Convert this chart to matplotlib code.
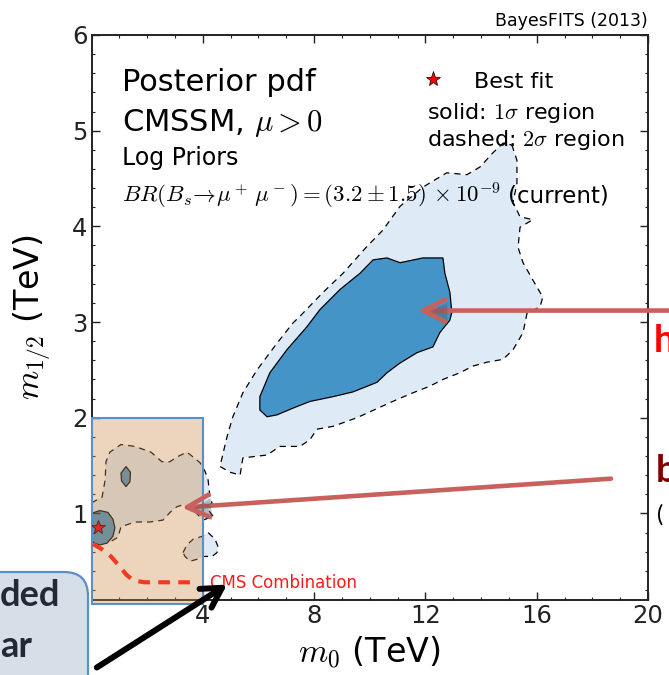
import matplotlib
matplotlib.use("Agg")
import matplotlib.pyplot as plt
import matplotlib.patheffects as pe
from matplotlib.patches import Rectangle, FancyBboxPatch
from matplotlib.ticker import MultipleLocator
from matplotlib.transforms import IdentityTransform

W, H = 669, 675

# Credible regions, (m0, m1/2) in TeV.
SIGMA2_MAIN = [
    (15.11, 4.85), (15.29, 4.69), (15.29, 4.45), (15.15, 4.25), (15.40, 4.10),
    (15.86, 4.07), (15.40, 3.99), (15.33, 3.78), (15.51, 3.62), (15.86, 3.44),
    (16.22, 3.26), (16.12, 3.16), (15.65, 3.09), (15.51, 2.89), (15.15, 2.71),
    (14.79, 2.61), (14.21, 2.58), (13.71, 2.54), (13.24, 2.47), (12.63, 2.40),
    (12.16, 2.33), (11.55, 2.26), (10.98, 2.19), (10.37, 2.11), (9.54, 2.00),
    (8.68, 1.91), (8.10, 1.88), (7.85, 1.77), (7.49, 1.70), (6.77, 1.70),
    (6.31, 1.61), (5.44, 1.58), (5.34, 1.40), (4.98, 1.43), (4.62, 1.49),
    (4.73, 1.63), (4.87, 1.80), (5.08, 2.01), (5.44, 2.26), (5.95, 2.50),
    (6.67, 2.78), (7.24, 2.99), (7.49, 3.06), (8.32, 3.31), (9.04, 3.51),
    (9.90, 3.79), (10.47, 3.96), (11.09, 4.21), (11.91, 4.41), (12.77, 4.56),
    (13.49, 4.54), (13.96, 4.62), (14.43, 4.77), (14.79, 4.87),
]
SIGMA2_LOW = [
    (0.00, 1.11), (0.38, 1.17), (0.49, 1.35), (0.52, 1.54), (0.66, 1.64),
    (1.06, 1.72), (1.56, 1.70), (2.14, 1.64), (2.53, 1.54), (2.82, 1.54),
    (3.07, 1.59), (3.43, 1.64), (3.65, 1.59), (3.90, 1.53), (4.08, 1.44),
    (4.19, 1.35), (4.26, 1.17), (4.33, 1.11), (4.19, 1.04), (4.37, 0.97),
    (4.01, 0.93), (3.54, 1.07), (3.29, 1.09), (3.07, 1.07), (2.82, 1.01),
    (2.57, 0.93), (2.10, 0.91), (1.56, 0.91), (1.06, 0.86), (0.95, 0.75),
    (0.59, 0.69), (0.13, 0.72), (0.00, 0.73),
]
SIGMA2_LOBE = [
    (3.29, 0.59), (3.43, 0.67), (3.65, 0.73), (3.97, 0.76), (4.19, 0.80),
    (4.44, 0.73), (4.55, 0.65), (4.51, 0.59), (4.33, 0.55), (4.01, 0.55),
    (3.79, 0.52), (3.54, 0.50), (3.36, 0.55),
]
SIGMA1_MAIN = [
    (12.63, 3.67), (12.70, 3.51), (12.88, 3.31), (12.95, 3.10), (12.88, 3.02),
    (12.52, 2.89), (12.27, 2.74), (11.70, 2.68), (11.08, 2.57), (10.62, 2.47),
    (10.26, 2.37), (9.40, 2.27), (8.68, 2.22), (7.85, 2.17), (7.24, 2.10),
    (6.67, 2.03), (6.31, 2.01), (6.05, 2.08), (6.05, 2.22), (6.41, 2.47),
    (7.02, 2.71), (7.74, 2.95), (8.21, 3.13), (8.93, 3.34), (9.65, 3.51),
    (10.12, 3.65), (10.62, 3.67), (11.09, 3.62), (11.91, 3.67),
]
SIGMA1_SPOT = [(1.24, 1.49), (1.40, 1.43), (1.38, 1.33), (1.24, 1.28), (1.08, 1.34), (1.06, 1.42)]
SIGMA1_BEST = [
    (0.00, 1.00), (0.30, 1.03), (0.59, 1.01), (0.77, 0.94), (0.84, 0.85),
    (0.77, 0.76), (0.56, 0.69), (0.30, 0.67), (0.09, 0.69), (0.00, 0.72),
]
BEST_FIT = (0.25, 0.86)

# CMS combination limit (hand-drawn overlay)
CMS_M0 = [0.05, 0.35, 0.70, 1.00, 1.25, 1.50, 1.90, 3.70]
CMS_M12 = [0.68, 0.63, 0.55, 0.45, 0.36, 0.30, 0.28, 0.28]

X_TICKS = [4, 8, 12, 16, 20]
Y_TICKS = [1, 2, 3, 4, 5, 6]

LIGHT_BLUE = "#deebf7"
DARK_BLUE = "#4594c7"
ARROW_RED = "#c8605b"


def fpx(x, y):
    """Figure-fraction coords from pixel position measured from the top-left."""
    return x / W, 1 - y / H


def fill_region(ax, pts, face, dashed):
    xs, ys = zip(*pts)
    ls = (0, (5, 4)) if dashed else "-"
    ax.fill(xs, ys, facecolor=face, edgecolor="black", lw=0.9, ls=ls, zorder=1)


fig = plt.figure(figsize=(W / 100, H / 100), dpi=100)
ax = fig.add_axes([91.5 / W, 1 - 599.5 / H, (648 - 91.5) / W, (599.5 - 35) / H])

for region in (SIGMA2_MAIN, SIGMA2_LOW, SIGMA2_LOBE):
    fill_region(ax, region, LIGHT_BLUE, dashed=True)
for region in (SIGMA1_MAIN, SIGMA1_SPOT, SIGMA1_BEST):
    fill_region(ax, region, DARK_BLUE, dashed=False)

ax.set_xlim(0, 20)
ax.set_ylim(0.1, 6)
ax.set_xticks(X_TICKS)
ax.set_yticks(Y_TICKS)
ax.xaxis.set_minor_locator(MultipleLocator(1))
ax.yaxis.set_minor_locator(MultipleLocator(0.2))
ax.tick_params(which="both", direction="in", top=True, right=True, labelsize=17.5, colors="#222222")
ax.tick_params(which="major", length=5.5, width=1, pad=3)
ax.tick_params(which="minor", length=2.5, width=0.8)
for sp in ax.spines.values():
    sp.set_linewidth(1.4)
    sp.set_color("#222222")

ax.set_xlabel(r"$m_0$ (TeV)", fontsize=24, math_fontfamily="cm")
ax.set_ylabel(r"$m_{1/2}$ (TeV)", fontsize=24, math_fontfamily="cm")
ax.xaxis.set_label_coords(0.5, -0.062)
ax.yaxis.set_label_coords(-0.068, 0.5)

# annotation block
ax.text(1.08, 5.415, "Posterior pdf", fontsize=22, va="baseline")
ax.text(1.08, 5.0, r"CMSSM, $\mu>0$", fontsize=22, va="baseline", math_fontfamily="cm")
ax.text(1.08, 4.64, "Log Priors", fontsize=17, va="baseline")
ax.text(1.08, 4.25, r"$BR(B_s\!\rightarrow\!\mu^+\,\mu^-)=(3.2\pm1.5)\,\times10^{-9}$",
        fontsize=16.5, va="baseline", math_fontfamily="cm")
ax.text(14.97, 4.25, "(current)", fontsize=16.5, va="baseline")

ax.plot(12.27, 5.54, marker="*", color="red", mec="black", mew=0.5, ms=11, ls="none")
ax.text(13.73, 5.45, "Best fit", fontsize=16, va="baseline")
ax.text(12.04, 5.127, r"solid: $1\sigma$ region", fontsize=16, va="baseline", math_fontfamily="cm")
ax.text(12.04, 4.84, r"dashed: $2\sigma$ region", fontsize=16, va="baseline", math_fontfamily="cm")

fig.text(*fpx(648, 26.5), "BayesFITS (2013)", fontsize=12.5, ha="right", va="baseline")

# highlighted low-mass box
ax.add_patch(Rectangle((0, 0.05), 4, 1.95, facecolor="#cd8848", alpha=0.36, lw=0,
                       zorder=3, clip_on=False))
ax.add_patch(Rectangle((0, 0.05), 4, 1.95, facecolor="none", edgecolor="#5b8fc9", lw=1.5,
                       zorder=3.1, clip_on=False))

ax.plot(CMS_M0, CMS_M12, color="#f0391f", lw=3, dashes=(2.8, 2.0), zorder=4,
        solid_capstyle="butt")
ax.text(4.26, 0.277, "CMS Combination", color="#ff1a1a", fontsize=12, va="center", zorder=4)
ax.plot(*BEST_FIT, marker="*", color="#e8281e", mec="#552222", mew=0.6, ms=10, ls="none", zorder=5)

shadow = [pe.SimplePatchShadow(offset=(1.5, -2.5), alpha=0.3), pe.Normal()]
ax.annotate("", xy=(11.73, 3.12), xytext=(21.6, 3.12), annotation_clip=False, zorder=6,
            arrowprops=dict(arrowstyle="->,head_length=0.8,head_width=0.4", lw=3.3,
                            color=ARROW_RED, mutation_scale=20, shrinkA=0, shrinkB=0,
                            path_effects=shadow))
ax.annotate("", xy=(3.25, 1.06), xytext=(18.67, 1.363), annotation_clip=False, zorder=6,
            arrowprops=dict(arrowstyle="->,head_length=0.8,head_width=0.4", lw=3.3,
                            color=ARROW_RED, mutation_scale=20, shrinkA=0, shrinkB=0,
                            path_effects=shadow))
ax.annotate("", xy=(4.87, 0.256), xytext=(0.19, -0.611), annotation_clip=False, zorder=6,
            arrowprops=dict(arrowstyle="->,head_length=0.7,head_width=0.4", lw=4.3,
                            color="black", mutation_scale=20, shrinkA=0, shrinkB=0))

# cut-off callout box at the bottom left
fig.patches.append(FancyBboxPatch((-40, -50), 128, H - 572 + 50,
                                  boxstyle="round,pad=0,rounding_size=24",
                                  facecolor="#d6dee8", edgecolor="#5b8fc9", lw=1.6,
                                  transform=IdentityTransform(), zorder=5))
fig.text(*fpx(60, 606), "ded", fontsize=26, fontweight="bold", family="Lato",
         color="#222a35", ha="right", va="baseline", zorder=6)
fig.text(*fpx(32, 657), "ar", fontsize=26, fontweight="bold", family="Lato",
         color="#222a35", ha="right", va="baseline", zorder=6)

# labels cut off at the right edge, as in the source slide
fig.text(*fpx(654, 352), "h", fontsize=27, fontweight="bold", family="Lato",
         color="#ff0000", va="baseline")
fig.text(*fpx(656, 482), "b", fontsize=27, fontweight="bold", family="Lato",
         color="#800000", va="baseline")
fig.text(*fpx(657, 522), "(", fontsize=17, family="Lato", color="black", va="baseline")

fig.savefig("out.png", dpi=100)
